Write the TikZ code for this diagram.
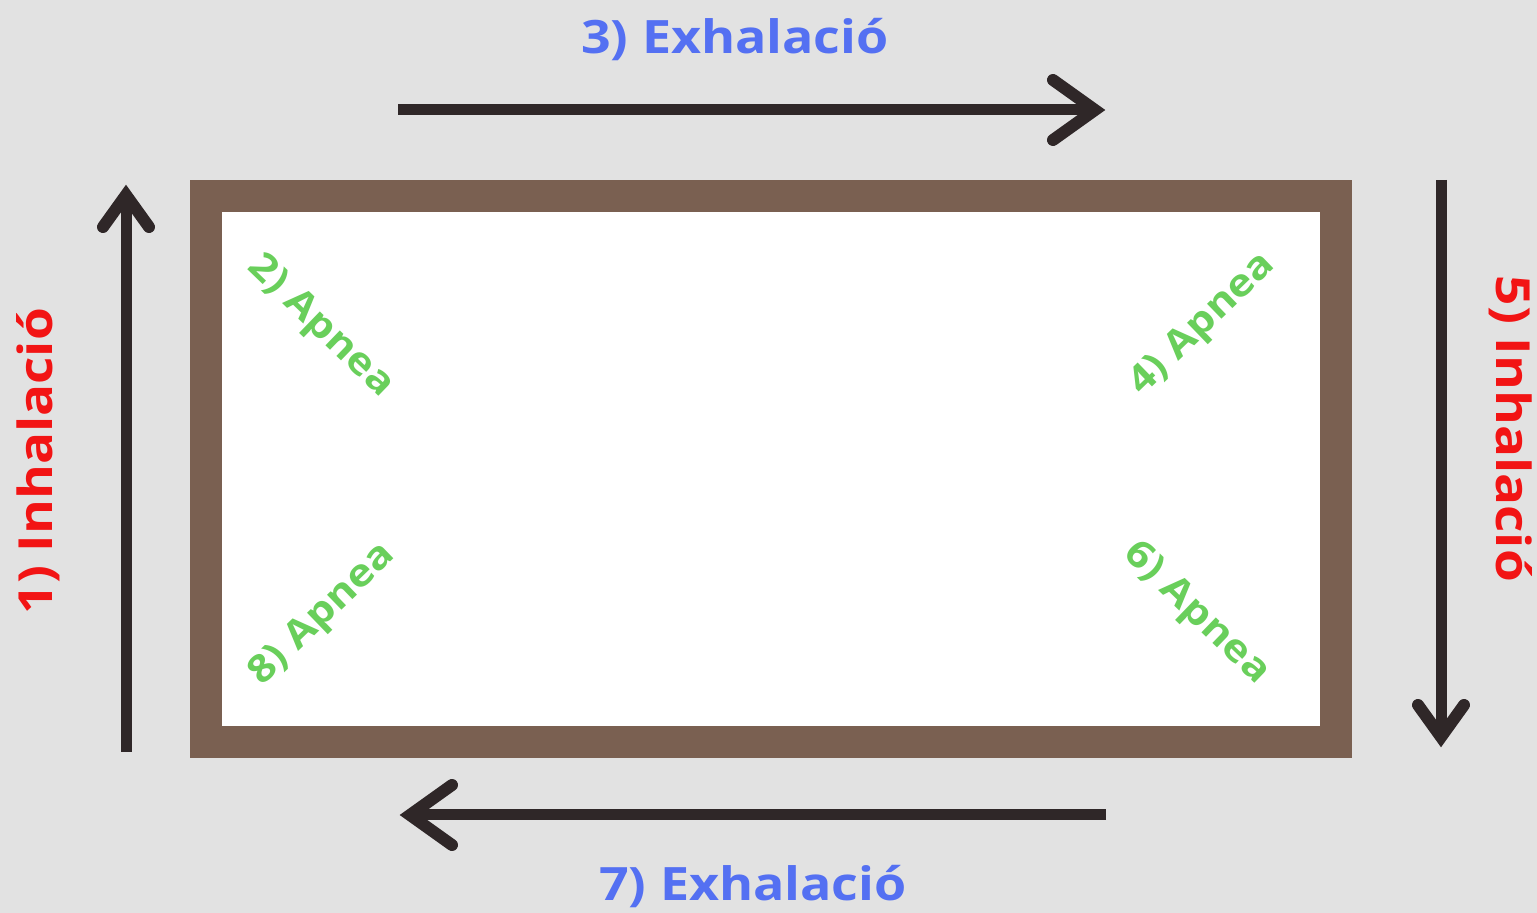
\documentclass[tikz,border=0pt]{standalone}
\usepackage{fontspec}
\setmainfont{Open Sans}
\definecolor{bg}{HTML}{E2E2E2}
\definecolor{framebrown}{HTML}{7A6051}
\definecolor{ink}{HTML}{2F2728}
\definecolor{exhblue}{HTML}{5470F2}
\definecolor{inhred}{HTML}{F21414}
\definecolor{apngreen}{HTML}{69CF5B}
\tikzset{
  shaft/.style={draw=ink, line width=5.5pt, line cap=butt},
  chev/.style={draw=ink, line width=6pt, line cap=round, line join=miter},
  exh/.style={text=exhblue, font=\bfseries\fontsize{23}{23}\selectfont, inner sep=0pt},
  inh/.style={text=inhred, font=\bfseries\fontsize{23.5}{23.5}\selectfont, inner sep=0pt},
  apn/.style={text=apngreen, font=\bfseries\fontsize{19}{19}\selectfont, inner sep=0pt},
}
\begin{document}
\begin{tikzpicture}[x=0.5pt, y=-0.5pt]
  % canvas
  \fill[bg] (0,0) rectangle (1537,913);
  \useasboundingbox (0,0) rectangle (1537,913);

  % the box
  \draw[draw=framebrown, fill=white, line width=16pt] (206,196) rectangle (1336,742);

  % arrow end points
  \coordinate (topS) at (398,110);
  \coordinate (topE) at (1095,110);
  \coordinate (rgtS) at (1441,180);
  \coordinate (rgtE) at (1441,737);
  \coordinate (botS) at (1106,815);
  \coordinate (botE) at (410,815);
  \coordinate (lftS) at (126,752);
  \coordinate (lftE) at (126,195);

  % shafts
  \draw[shaft] (topS) -- (topE);
  \draw[shaft] (rgtS) -- (rgtE);
  \draw[shaft] (botS) -- (botE);
  \draw[shaft] (lftS) -- (lftE);

  % open heads
  \draw[chev] ([shift={(-42,-30)}]topE) -- (topE) -- ([shift={(-42,30)}]topE);
  \draw[chev] ([shift={(42,-30)}]botE) -- (botE) -- ([shift={(42,30)}]botE);
  \draw[chev] ([shift={(-23,32)}]lftE) -- (lftE) -- ([shift={(23,32)}]lftE);
  \draw[chev] ([shift={(-23,-32)}]rgtE) -- (rgtE) -- ([shift={(23,-32)}]rgtE);

  % labels
  \node[exh, anchor=base, xscale=1.13] (l3) at (735,54) {3) Exhalació};
  \node[exh, anchor=base, xscale=1.13] (l7) at (753,900) {7) Exhalació};
  \node[inh, anchor=base, rotate=90, xscale=1.13] (l1) at (53,461) {1) Inhalació};
  \node[inh, anchor=base, rotate=-90, xscale=1.13] (l5) at (1496,429) {5) Inhalació};
  \node[apn, rotate=-44, xscale=1.13] (l2) at (320,327) {2) Apnea};
  \node[apn, rotate=44, xscale=1.13] (l4) at (1203,325) {4) Apnea};
  \node[apn, rotate=-44, xscale=1.13] (l6) at (1196,614) {6) Apnea};
  \node[apn, rotate=44, xscale=1.13] (l8) at (323,615) {8) Apnea};
\end{tikzpicture}
\end{document}
